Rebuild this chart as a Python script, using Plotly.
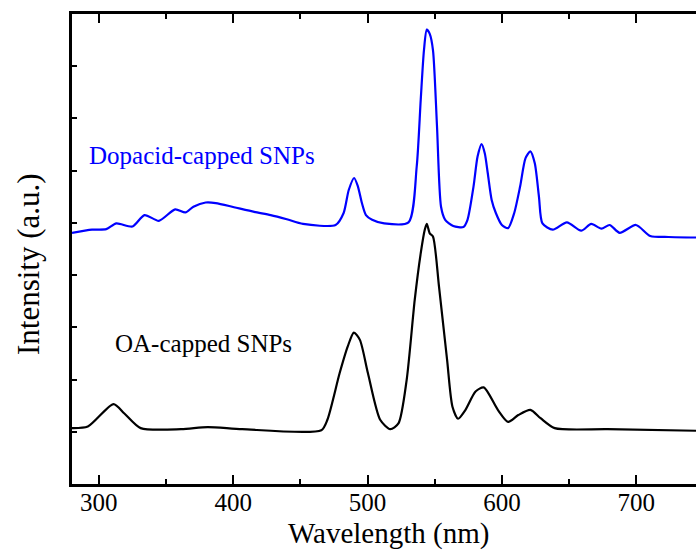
import plotly.graph_objects as go

# Wavelength (nm) and intensity (arbitrary, offset)
dop_x = [280, 294.9, 305.5, 313, 325, 334, 344.7, 356.8, 364.4, 370.4, 379.5, 387, 400.6, 415.7,
         427.9, 439.9, 452, 476.2, 482.2, 486, 490, 492.8, 495.8, 498.8, 503.4, 512.4, 530.5,
         536.6, 539.6, 542, 544.1, 546.3, 548.7, 551.7, 554.7, 557.8, 563.8, 571.3, 574.4, 578.9,
         581.9, 584.9, 587.3, 589.5, 592.4, 595.5, 600, 604.6, 609.2, 613.6, 617.6, 621.2, 624.5,
         627.6, 630.2, 637.9, 648.4, 659, 666.5, 674.1, 680.2, 687.7, 699.8, 710.4, 724, 744.5]
dop_y = [4.81, 4.87, 4.88, 4.99, 4.93, 5.15, 5.04, 5.26, 5.20, 5.31, 5.39, 5.38, 5.30, 5.21,
         5.15, 5.07, 4.98, 4.96, 5.19, 5.63, 5.86, 5.70, 5.38, 5.15, 5.06, 4.99, 5.01,
         6.08, 7.36, 8.31, 8.70, 8.62, 8.31, 6.85, 5.31, 5.06, 4.94, 4.92, 5.06, 5.70,
         6.27, 6.51, 6.33, 5.95, 5.44, 5.19, 4.96, 4.90, 5.19, 5.70, 6.24, 6.37, 6.14,
         5.50, 4.99, 4.87, 5.01, 4.85, 4.98, 4.89, 4.96, 4.81, 4.96, 4.75, 4.73, 4.72]

oa_x = [280, 291.8, 310.9, 319, 331.1, 361.3, 381, 406.7, 465.6, 470.1, 479.2, 485.2, 489.8,
        494.3, 500.3, 509.4, 516.9, 523, 529.1, 535.1, 539.6, 542.6, 544.1, 546.3, 548.7, 553.2,
        559.2, 563.2, 567.4, 572.9, 580.4, 586.5, 597, 604.6, 612.2, 621.2, 628.8, 639.3, 678.7,
        744.5]
oa_y = [1.07, 1.10, 1.53, 1.35, 1.07, 1.05, 1.09, 1.05, 1.03, 1.23, 2.12, 2.63, 2.90,
        2.76, 2.12, 1.23, 1.05, 1.16, 1.99, 3.52, 4.42, 4.87, 4.98, 4.80, 4.74, 3.78,
        2.38, 1.48, 1.25, 1.42, 1.77, 1.85, 1.42, 1.19, 1.32, 1.42, 1.26, 1.07, 1.05,
        1.02]

x_ticks = [300, 400, 500, 600, 700]
labels = ["Dopacid-capped SNPs", "OA-capped SNPs"]

FONT = "Liberation Serif"

fig = go.Figure()
fig.add_trace(go.Scatter(x=dop_x, y=dop_y, mode="lines",
                         line=dict(color="#0000FF", width=2.2, shape="spline", smoothing=0.7),
                         name=labels[0], showlegend=False))
fig.add_trace(go.Scatter(x=oa_x, y=oa_y, mode="lines",
                         line=dict(color="#000000", width=2.2, shape="spline", smoothing=0.7),
                         name=labels[1], showlegend=False))

fig.add_annotation(x=291.5, y=6.30, xref="x", yref="y", text=labels[0], showarrow=False,
                   xanchor="left", yanchor="middle", font=dict(family=FONT, size=25, color="#0000FF"))
fig.add_annotation(x=310.2, y=2.70, xref="x", yref="y", text=labels[1], showarrow=False,
                   xanchor="left", yanchor="middle", font=dict(family=FONT, size=25, color="#000000"))
fig.add_annotation(x=-0.0705, y=0.468, xref="paper", yref="paper", text="Intensity (a.u.)",
                   textangle=-90, showarrow=False, xanchor="center", yanchor="middle",
                   font=dict(family=FONT, size=31, color="#000000"))
fig.add_annotation(x=0.508, y=-0.1047, xref="paper", yref="paper", text="Wavelength (nm)",
                   showarrow=False, xanchor="center", yanchor="middle",
                   font=dict(family=FONT, size=29, color="#000000"))

fig.update_layout(
    width=696, height=550,
    margin=dict(l=72, r=0, t=14, b=66),
    paper_bgcolor="white", plot_bgcolor="white",
    font=dict(family=FONT, color="#000000"),
    xaxis=dict(range=[280, 744.5], tickvals=x_ticks, ticks="inside", ticklen=9, tickwidth=2,
               tickcolor="black", showline=True, linewidth=2.5, linecolor="black", mirror="ticks",
               showgrid=False, zeroline=False, tickfont=dict(family=FONT, size=25, color="#000000"),
               ticklabelstandoff=-6,
               minor=dict(tickvals=[350, 450, 550, 650], ticks="inside", ticklen=5, tickwidth=2,
                          tickcolor="black")),
    yaxis=dict(range=[0, 9], dtick=1, ticks="inside", ticklen=5, tickwidth=2, tickcolor="black",
               showticklabels=False, showline=True, linewidth=2.5, linecolor="black",
               showgrid=False, zeroline=False),
)

fig.write_html("out.html")
